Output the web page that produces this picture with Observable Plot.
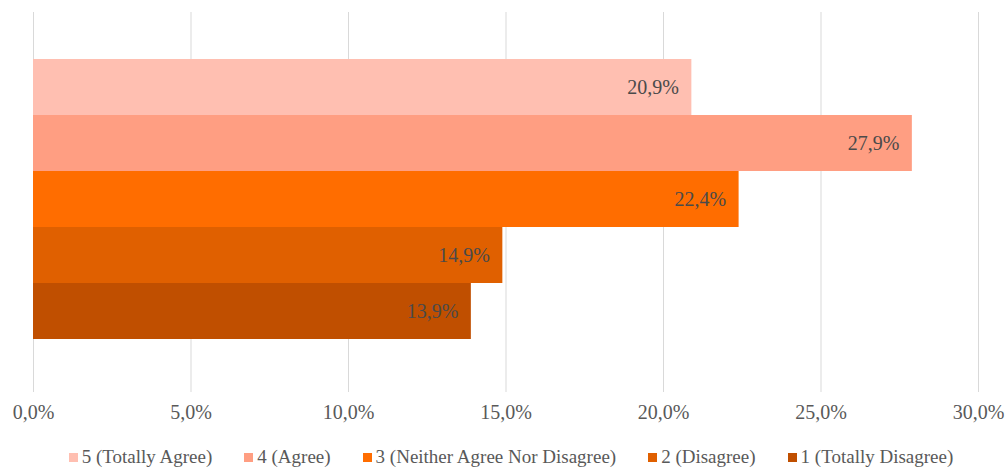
<!DOCTYPE html>
<html>
<head>
<meta charset="utf-8">
<style>
  html, body { margin: 0; padding: 0; background: #fff; font-family: 'Liberation Serif', 'Times New Roman', serif; }
  #chart svg { display: block; }
  .legend { display: flex; justify-content: center; align-items: center; gap: 32px;
            font-family: 'Liberation Serif', 'Times New Roman', serif; font-size: 19px; color: #595959;
            height: 22px; line-height: 22px; padding-top: 11px; padding-left: 14px; }
  .legend .item { display: flex; align-items: center; gap: 4px; white-space: nowrap; }
  .legend .sw { width: 9px; height: 9px; display: inline-block; }
</style>
</head>
<body>
<div id="chart"></div>
<script src="https://cdn.jsdelivr.net/npm/d3@7"></script>
<script src="https://cdn.jsdelivr.net/npm/@observablehq/plot@0.6"></script>
<script>
const categories = ["5 (Totally Agree)", "4 (Agree)", "3 (Neither Agree Nor Disagree)", "2 (Disagree)", "1 (Totally Disagree)"];
const values = [0.209, 0.279, 0.224, 0.149, 0.139];
const colors = ["#FFBFB1", "#FF9E82", "#FF6D00", "#E06000", "#C04F00"];
const xTicks = [0, 0.05, 0.10, 0.15, 0.20, 0.25, 0.30];

const data = categories.map((c, i) => ({category: c, value: values[i]}));
const fmt = d => (d * 100).toFixed(1).replace(".", ",") + "%";
const FONT = "Liberation Serif";

const plot = Plot.plot({
  width: 1008,
  height: 435,
  marginTop: 12,
  marginBottom: 43,
  marginLeft: 33,
  marginRight: 30,
  style: "font-family: 'Liberation Serif', 'Times New Roman', serif; background: #fff;",
  x: { domain: [0, 0.30], ticks: xTicks, tickFormat: fmt, label: null },
  y: { domain: categories, paddingInner: 0, paddingOuter: 0.857, align: 0.47, axis: null },
  color: { domain: categories, range: colors },
  marks: [
    Plot.gridX(xTicks, { stroke: "#d9d9d9", strokeOpacity: 1, strokeWidth: 1 }),
    Plot.axisX({ ticks: xTicks, tickFormat: fmt, tickSize: 0, tickPadding: 12, fontSize: 20, fontFamily: FONT, fill: "#595959", label: null }),
    Plot.barX(data, { x: "value", y: "category", fill: "category" }),
    Plot.text(data, { x: "value", y: "category", text: d => fmt(d.value), textAnchor: "end", dx: -13, fontSize: 20, fontFamily: FONT, fill: "#4a4a4a" })
  ]
});
const root = document.getElementById("chart");
root.appendChild(plot);

const legend = document.createElement("div");
legend.className = "legend";
categories.forEach((c, i) => {
  const item = document.createElement("span");
  item.className = "item";
  const sw = document.createElement("span");
  sw.className = "sw";
  sw.style.background = colors[i];
  item.appendChild(sw);
  item.appendChild(document.createTextNode(c));
  legend.appendChild(item);
});
root.appendChild(legend);
</script>
</body>
</html>
